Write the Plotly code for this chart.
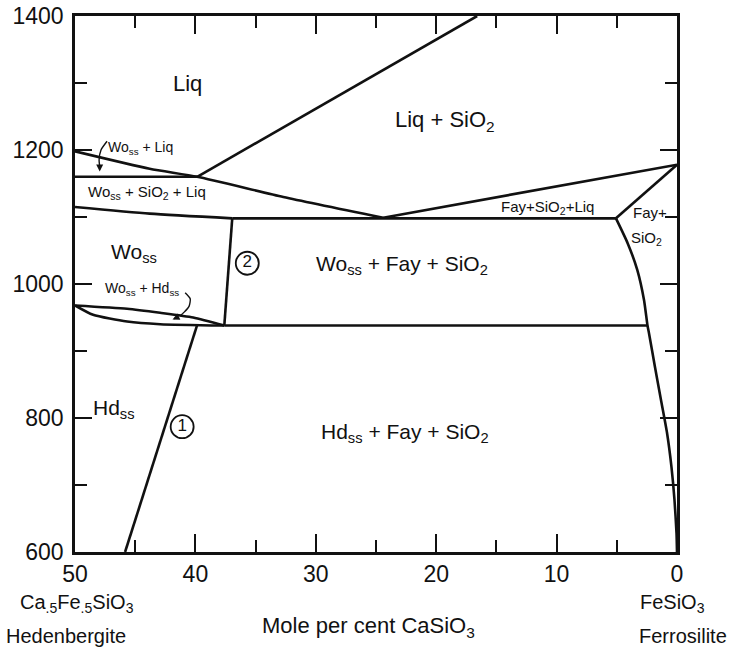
import plotly.graph_objects as go

# ---- phase-boundary data (mole % CaSiO3, temperature °C) ----
wo_liquidus_x = [50, 43.8, 39.85, 32.7, 24.4]
wo_liquidus_y = [1198, 1172, 1160, 1130, 1099]

sio2_liquidus_x = [39.85, 16.6]
sio2_liquidus_y = [1160, 1400]

iso_1160_x = [50, 39.85]
iso_1160_y = [1160, 1160]

wo_sio2_liq_lower_x = [50, 43.8, 36.94]
wo_sio2_liq_lower_y = [1115, 1105, 1098]

iso_1098_x = [36.94, 5.07]
iso_1098_y = [1098, 1098]

fay_liquidus_x = [24.4, 0]
fay_liquidus_y = [1099, 1178]

fay_sio2_x = [5.07, 0]
fay_sio2_y = [1098, 1178]

ferro_x = [5.07, 4.1, 3.3, 2.74, 2.45, 2.33, 1.83, 1.33, 0.83, 0.46, 0.21, 0.04, 0]
ferro_y = [1098, 1061, 1021, 976, 938, 927, 876, 827, 778, 727, 678, 628, 600]

iso_938_x = [37.6, 2.45]
iso_938_y = [938, 938]

line2_x = [36.94, 37.6]
line2_y = [1098, 938]

lens_upper_x = [50, 45.67, 42.93, 40.18, 37.6]
lens_upper_y = [968, 963, 957, 950, 938]

lens_lower_x = [50, 48.5, 45.67, 42.93, 37.6]
lens_lower_y = [968, 954, 944, 940, 938]

line1_x = [39.85, 45.84]
line1_y = [939, 600]

# leader curves for small labels
lead_woliq_x = [47.34, 47.84, 48.0, 47.95]
lead_woliq_y = [1213, 1200, 1185, 1176]
lead_wohd_x = [40.85, 40.43, 40.52, 40.93, 41.3]
lead_wohd_y = [987, 978, 967, 958, 952]

# circled reaction numbers
circle_x = [41.1, 35.69]
circle_y = [787, 1031]
circle_txt = ["1", "2"]

# region labels: (text, x, y, size)
labels = [
    ("Liq", 40.68, 1300, 22),
    ("Liq + SiO<sub>2</sub>", 19.3, 1243, 22),
    ("Wo<sub>ss</sub> + Liq", 44.6, 1203, 14),
    ("Wo<sub>ss</sub> + SiO<sub>2</sub> + Liq", 44.0, 1136, 15),
    ("Fay+SiO<sub>2</sub>+Liq", 10.73, 1114, 15),
    ("Fay+", 2.25, 1107, 15),
    ("SiO<sub>2</sub>", 2.5, 1068, 15),
    ("Wo<sub>ss</sub>", 45.1, 1046, 21),
    ("Wo<sub>ss</sub> + Hd<sub>ss</sub>", 44.4, 992, 14),
    ("Wo<sub>ss</sub> + Fay + SiO<sub>2</sub>", 22.88, 1029, 21),
    ("Hd<sub>ss</sub>", 46.76, 813, 21),
    ("Hd<sub>ss</sub> + Fay + SiO<sub>2</sub>", 22.63, 777, 21),
]

x_ticks = [50, 40, 30, 20, 10, 0]
y_ticks = [600, 800, 1000, 1200, 1400]

INK = "#111111"
LW = 2.6
FONT = "Liberation Sans"

fig = go.Figure()

def add_line(xs, ys, smooth=False, width=LW):
    fig.add_trace(go.Scatter(
        x=xs, y=ys, mode="lines",
        line=dict(color=INK, width=width, shape="spline" if smooth else "linear", smoothing=0.6),
        hoverinfo="skip", showlegend=False))

add_line(wo_liquidus_x, wo_liquidus_y, smooth=True)
add_line(sio2_liquidus_x, sio2_liquidus_y)
add_line(iso_1160_x, iso_1160_y)
add_line(wo_sio2_liq_lower_x, wo_sio2_liq_lower_y, smooth=True)
add_line(iso_1098_x, iso_1098_y)
add_line(fay_liquidus_x, fay_liquidus_y)
add_line(fay_sio2_x, fay_sio2_y)
add_line(ferro_x, ferro_y, smooth=True)
add_line(iso_938_x, iso_938_y)
add_line(line2_x, line2_y)
add_line(lens_upper_x, lens_upper_y, smooth=True)
add_line(lens_lower_x, lens_lower_y, smooth=True)
add_line(line1_x, line1_y)
add_line(lead_woliq_x, lead_woliq_y, smooth=True, width=1.4)
add_line(lead_wohd_x, lead_wohd_y, smooth=True, width=1.4)

fig.add_trace(go.Scatter(
    x=circle_x, y=circle_y, mode="markers+text", text=circle_txt,
    textposition="middle center",
    textfont=dict(family=FONT, size=17, color=INK),
    marker=dict(symbol="circle-open", size=23, color=INK, line=dict(width=1.8, color=INK)),
    hoverinfo="skip", showlegend=False))

# arrow heads on leader curves
fig.add_annotation(x=lead_woliq_x[-1], y=lead_woliq_y[-1] - 8, ax=lead_woliq_x[-1], ay=lead_woliq_y[-1],
                   xref="x", yref="y", axref="x", ayref="y", text="", showarrow=True,
                   arrowhead=2, arrowsize=1, arrowwidth=1.4, arrowcolor=INK)
fig.add_annotation(x=lead_wohd_x[-1] + 0.6, y=lead_wohd_y[-1] - 5, ax=lead_wohd_x[-1], ay=lead_wohd_y[-1],
                   xref="x", yref="y", axref="x", ayref="y", text="", showarrow=True,
                   arrowhead=2, arrowsize=1, arrowwidth=1.4, arrowcolor=INK)

for txt, lx, ly, sz in labels:
    fig.add_annotation(x=lx, y=ly, xref="x", yref="y", text=txt, showarrow=False,
                       font=dict(family=FONT, size=sz, color=INK),
                       xanchor="center", yanchor="middle")

# bottom texts
bottom = [
    ("Ca<sub>.5</sub>Fe<sub>.5</sub>SiO<sub>3</sub>", -0.095, -0.097, "left", 20),
    ("Hedenbergite", -0.118, -0.157, "left", 20),
    ("Mole per cent CaSiO<sub>3</sub>", 0.488, -0.14, "center", 22),
    ("FeSiO<sub>3</sub>", 0.936, -0.097, "left", 20),
    ("Ferrosilite", 1.087, -0.157, "right", 20),
]
for txt, px, py, anc, sz in bottom:
    fig.add_annotation(x=px, y=py, xref="paper", yref="paper", text=txt, showarrow=False,
                       font=dict(family=FONT, size=sz, color=INK),
                       xanchor=anc, yanchor="middle")

fig.update_layout(
    width=732, height=652,
    margin=dict(l=75, r=55, t=16, b=100, autoexpand=False),
    plot_bgcolor="white", paper_bgcolor="white",
    showlegend=False,
    font=dict(family=FONT, color=INK),
)
fig.update_xaxes(
    range=[50, 0], tickvals=x_ticks, ticktext=[str(v) for v in x_ticks],
    ticks="inside", ticklen=18, tickwidth=1.8, tickcolor=INK,
    showline=True, linewidth=LW, linecolor=INK, mirror="ticks",
    showgrid=False, zeroline=False, automargin=False,
    tickfont=dict(family=FONT, size=23, color=INK),
    minor=dict(dtick=5, tick0=0, ticks="inside", ticklen=12, tickwidth=1.8, tickcolor=INK, showgrid=False),
)
fig.update_yaxes(
    range=[600, 1400], tickvals=y_ticks, ticktext=[str(v) for v in y_ticks],
    ticks="inside", ticklen=17, tickwidth=1.8, tickcolor=INK,
    showline=True, linewidth=LW, linecolor=INK, mirror="ticks",
    showgrid=False, zeroline=False, automargin=False, ticklabelstandoff=4,
    tickfont=dict(family=FONT, size=23, color=INK),
    minor=dict(dtick=100, tick0=600, ticks="inside", ticklen=12, tickwidth=1.8, tickcolor=INK, showgrid=False),
)

fig.write_html("out.html",
               config={"displayModeBar": False},
               post_script="document.body.style.margin='0';document.body.style.overflow='hidden';")
